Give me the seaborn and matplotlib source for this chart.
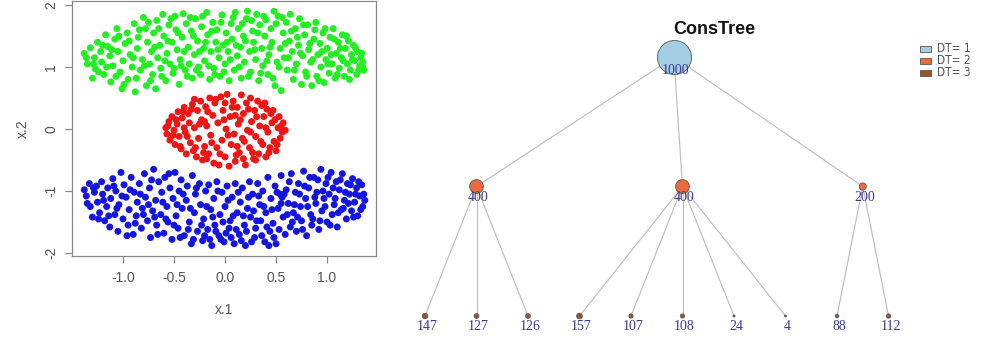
import numpy as np
import pandas as pd
import matplotlib
matplotlib.use("Agg")
import matplotlib.pyplot as plt
from matplotlib.patches import Rectangle
import seaborn as sns

# ---------------- data: scatter clusters (x.1, x.2) ----------------
green_pts = [
    (-1.38, 1.22), (-1.35, 1.05), (-1.32, 1.31), (-1.30, 0.82), (-1.28, 1.15), (-1.27, 0.97),
    (-1.25, 1.40), (-1.22, 1.25), (-1.21, 1.08), (-1.19, 0.88), (-1.17, 1.52), (-1.15, 1.33),
    (-1.13, 1.18), (-1.12, 0.76), (-1.10, 1.02), (-1.08, 1.45), (-1.06, 1.62), (-1.05, 1.25),
    (-1.03, 0.92), (-1.01, 0.65), (-1.00, 1.10), (-0.98, 1.38), (-0.96, 1.55), (-0.95, 0.80),
    (-0.93, 1.20), (-0.91, 1.00), (-0.89, 1.70), (-0.88, 0.60), (-0.86, 1.30), (-0.85, 1.48),
    (-0.83, 0.95), (-0.81, 1.12), (-0.80, 1.80), (-0.78, 1.62), (-0.77, 0.70), (-0.76, 1.40),
    (-0.74, 1.05), (-0.72, 1.25), (-0.71, 0.88), (-0.70, 1.55), (-0.68, 0.65), (-0.67, 1.75),
    (-0.66, 1.15), (-0.64, 1.35), (-0.63, 0.98), (-0.61, 1.85), (-0.60, 1.50), (-0.58, 0.78),
    (-0.57, 1.22), (-0.55, 1.68), (-0.54, 1.05), (-0.52, 1.40), (-0.51, 0.90), (-0.49, 1.82),
    (-0.48, 1.60), (-0.47, 1.28), (-0.45, 0.72), (-0.44, 1.12), (-0.42, 1.48), (-0.41, 1.86),
    (-0.39, 0.95), (-0.38, 1.70), (-0.36, 1.32), (-0.35, 1.05), (-0.33, 1.58), (-0.32, 0.82),
    (-0.30, 1.20), (-0.29, 1.78), (-0.27, 1.42), (-0.26, 1.00), (-0.24, 0.88), (-0.23, 1.65),
    (-0.21, 1.30), (-0.20, 1.10), (-0.18, 1.88), (-0.17, 1.52), (-0.15, 0.80), (-0.14, 1.25),
    (-0.12, 1.72), (-0.11, 0.98), (-0.09, 1.40), (-0.08, 1.60), (-0.06, 1.15), (-0.05, 0.85),
    (-0.03, 1.84), (-0.02, 1.35), (0.00, 1.05), (0.01, 1.55), (0.03, 1.25), (0.04, 0.78),
    (0.06, 1.70), (0.07, 1.45), (0.09, 0.95), (0.10, 1.88), (0.12, 1.18), (0.13, 1.62),
    (0.15, 1.32), (0.16, 0.82), (0.18, 1.50), (0.19, 1.08), (0.21, 1.78), (0.22, 1.90),
    (0.24, 1.25), (0.25, 0.92), (0.27, 1.58), (0.28, 1.40), (0.30, 1.12), (0.31, 1.85),
    (0.33, 0.78), (0.34, 1.68), (0.36, 1.30), (0.37, 1.02), (0.39, 1.50), (0.40, 1.76),
    (0.42, 0.88), (0.43, 1.20), (0.45, 1.62), (0.46, 1.40), (0.48, 1.90), (0.49, 0.70),
    (0.51, 1.08), (0.52, 1.82), (0.54, 1.30), (0.55, 0.62), (0.57, 1.55), (0.58, 1.15),
    (0.60, 1.72), (0.61, 0.95), (0.63, 1.42), (0.64, 1.85), (0.66, 1.25), (0.67, 0.80),
    (0.69, 1.62), (0.70, 1.05), (0.72, 1.35), (0.73, 1.78), (0.75, 0.72), (0.76, 1.18),
    (0.78, 1.52), (0.79, 0.92), (0.81, 1.68), (0.82, 1.28), (0.84, 1.08), (0.85, 0.70),
    (0.87, 1.45), (0.88, 1.60), (0.90, 0.85), (0.91, 1.20), (0.93, 1.38), (0.94, 1.00),
    (0.96, 1.55), (0.97, 0.75), (0.99, 1.12), (1.00, 1.30), (1.02, 0.90), (1.03, 1.48),
    (1.05, 1.05), (1.06, 1.62), (1.08, 0.82), (1.09, 1.22), (1.11, 1.40), (1.12, 0.98),
    (1.14, 1.15), (1.15, 1.52), (1.17, 0.85), (1.18, 1.30), (1.20, 1.05), (1.21, 1.42),
    (1.23, 0.95), (1.24, 1.20), (1.26, 1.35), (1.27, 1.10), (1.29, 0.88), (1.30, 1.25),
    (1.32, 1.02), (1.33, 1.15), (1.35, 1.08), (1.36, 0.95),
    (-1.36, 1.15), (-1.29, 1.05), (-1.24, 0.92), (-1.20, 1.35), (-1.16, 1.00), (-1.11, 1.28),
    (-1.07, 0.85), (-1.04, 1.50), (-0.99, 0.72), (-0.94, 1.42), (-0.90, 1.15), (-0.87, 0.82),
    (-0.84, 1.60), (-0.79, 1.02), (-0.75, 1.72), (-0.73, 0.78), (-0.69, 1.32), (-0.65, 1.62),
    (-0.62, 0.85), (-0.59, 1.10), (-0.56, 1.42), (-0.53, 1.78), (-0.50, 0.98), (-0.46, 1.55),
    (-0.43, 1.02), (-0.40, 1.25), (-0.37, 0.85), (-0.34, 1.80), (-0.31, 1.50), (-0.28, 0.95),
    (-0.25, 1.25), (-0.22, 1.82), (-0.19, 1.40), (-0.16, 1.02), (-0.13, 1.58), (-0.10, 0.88),
    (-0.07, 1.28), (-0.04, 1.72), (-0.01, 0.92), (0.02, 1.40), (0.05, 1.12), (0.08, 1.80),
    (0.11, 1.35), (0.14, 1.00), (0.17, 1.70), (0.20, 1.42), (0.23, 0.85), (0.26, 1.75),
    (0.29, 1.28), (0.32, 1.55), (0.35, 0.90), (0.38, 1.82), (0.41, 1.10), (0.44, 1.32),
    (0.47, 0.82), (0.50, 1.70), (0.53, 1.00), (0.56, 1.80), (0.59, 1.38), (0.62, 1.15),
    (0.65, 1.58), (0.68, 0.95), (0.71, 1.48), (0.74, 1.22), (0.77, 1.68), (0.80, 0.85),
    (0.83, 1.38), (0.86, 1.12), (0.89, 1.72), (0.92, 0.78), (0.95, 1.25), (0.98, 1.62),
    (1.01, 1.05), (1.04, 1.20), (1.07, 1.45), (1.10, 0.88), (1.13, 1.30), (1.16, 1.10),
    (1.19, 1.50), (1.22, 0.80), (1.25, 1.12), (1.28, 1.30), (1.31, 0.95), (1.34, 1.22),
    (1.35, 1.00),
]

red_pts = [
    (-0.58, 0.02), (-0.57, -0.08), (-0.55, 0.12), (-0.54, -0.18), (-0.52, 0.20), (-0.50, -0.02),
    (-0.49, -0.25), (-0.47, 0.08), (-0.46, 0.28), (-0.45, -0.12), (-0.43, -0.32), (-0.42, 0.18),
    (-0.40, 0.35), (-0.39, -0.05), (-0.38, -0.40), (-0.36, 0.25), (-0.35, 0.10), (-0.34, -0.22),
    (-0.32, 0.40), (-0.31, -0.35), (-0.30, 0.02), (-0.28, -0.45), (-0.27, 0.30), (-0.26, -0.15),
    (-0.24, 0.45), (-0.23, 0.15), (-0.22, -0.50), (-0.20, -0.28), (-0.19, 0.36), (-0.18, 0.05),
    (-0.16, -0.40), (-0.15, 0.50), (-0.14, -0.10), (-0.12, 0.22), (-0.11, -0.55), (-0.10, 0.42),
    (-0.08, -0.30), (-0.07, 0.10), (-0.06, -0.58), (-0.04, 0.52), (-0.03, -0.18), (-0.02, 0.30),
    (0.00, -0.45), (0.01, 0.00), (0.02, 0.56), (0.04, -0.60), (0.05, 0.20), (0.06, -0.25),
    (0.08, 0.45), (0.09, -0.08), (0.10, -0.52), (0.12, 0.35), (0.13, 0.08), (0.14, -0.38),
    (0.16, 0.55), (0.17, -0.15), (0.18, 0.25), (0.20, -0.58), (0.21, 0.42), (0.22, -0.02),
    (0.24, -0.30), (0.25, 0.50), (0.26, 0.12), (0.28, -0.48), (0.29, 0.30), (0.30, -0.12),
    (0.32, 0.45), (0.33, -0.40), (0.34, 0.05), (0.36, 0.38), (0.37, -0.25), (0.38, 0.20),
    (0.40, -0.45), (0.41, 0.32), (0.42, -0.05), (0.44, -0.30), (0.45, 0.25), (0.46, 0.10),
    (0.48, -0.20), (0.49, 0.15), (0.50, -0.35), (0.52, 0.02), (0.53, 0.20), (0.54, -0.15),
    (0.56, -0.05), (0.57, 0.10), (0.59, -0.02),
    (-0.56, 0.05), (-0.51, -0.10), (-0.48, 0.15), (-0.44, -0.28), (-0.41, 0.28), (-0.37, -0.12),
    (-0.33, 0.32), (-0.29, -0.30), (-0.25, 0.08), (-0.21, -0.38), (-0.17, 0.28), (-0.13, -0.22),
    (-0.09, 0.48), (-0.05, -0.40), (-0.01, 0.15), (0.03, -0.10), (0.07, 0.35), (0.11, -0.42),
    (0.15, 0.15), (0.19, -0.20), (0.23, 0.32), (0.27, -0.38), (0.31, 0.20), (0.35, -0.20),
    (0.39, 0.42), (0.43, -0.38), (0.47, 0.30), (0.51, -0.25), (0.55, 0.05), (-0.30, 0.48),
    (-0.18, -0.48), (0.00, 0.42), (0.10, 0.22), (0.18, -0.48), (0.30, -0.50), (0.40, 0.02),
    (-0.40, 0.02), (-0.20, 0.12), (0.25, -0.05), (0.12, -0.28),
]

blue_pts = [
    (-1.38, -0.98), (-1.36, -1.08), (-1.33, -0.88), (-1.32, -1.25), (-1.30, -1.42), (-1.28, -1.02),
    (-1.26, -0.92), (-1.25, -1.18), (-1.23, -1.35), (-1.21, -0.85), (-1.20, -1.05), (-1.18, -1.48),
    (-1.16, -1.25), (-1.15, -0.95), (-1.13, -1.58), (-1.12, -1.12), (-1.10, -0.80), (-1.08, -1.38),
    (-1.07, -1.00), (-1.05, -1.65), (-1.04, -1.22), (-1.02, -0.70), (-1.00, -1.45), (-0.99, -0.90),
    (-0.97, -1.10), (-0.95, -1.55), (-0.94, -1.30), (-0.92, -0.78), (-0.90, -1.70), (-0.89, -1.02),
    (-0.87, -1.40), (-0.86, -1.18), (-0.84, -0.88), (-0.82, -1.60), (-0.81, -1.28), (-0.79, -0.72),
    (-0.78, -1.10), (-0.76, -1.48), (-0.74, -0.95), (-0.73, -1.75), (-0.71, -1.32), (-0.70, -0.65),
    (-0.68, -1.15), (-0.67, -1.55), (-0.65, -0.85), (-0.63, -1.38), (-0.62, -1.02), (-0.60, -1.68),
    (-0.59, -0.78), (-0.57, -1.25), (-0.56, -1.50), (-0.54, -0.95), (-0.52, -1.78), (-0.51, -1.12),
    (-0.49, -0.70), (-0.48, -1.40), (-0.46, -1.60), (-0.45, -1.00), (-0.43, -0.82), (-0.42, -1.28),
    (-0.40, -1.72), (-0.38, -1.15), (-0.37, -0.92), (-0.35, -1.50), (-0.33, -1.85), (-0.32, -0.75),
    (-0.30, -1.35), (-0.29, -1.05), (-0.27, -1.65), (-0.25, -0.88), (-0.24, -1.22), (-0.22, -1.80),
    (-0.21, -1.45), (-0.19, -1.00), (-0.17, -1.62), (-0.16, -0.90), (-0.14, -1.30), (-0.13, -1.88),
    (-0.11, -1.12), (-0.10, -1.55), (-0.08, -0.85), (-0.06, -1.72), (-0.05, -1.38), (-0.03, -1.02),
    (-0.01, -1.82), (0.00, -1.25), (0.02, -0.92), (0.04, -1.60), (0.05, -1.48), (0.07, -1.10),
    (0.09, -1.85), (0.10, -0.88), (0.12, -1.35), (0.14, -1.70), (0.15, -1.18), (0.17, -0.95),
    (0.19, -1.55), (0.20, -1.88), (0.22, -1.28), (0.24, -0.85), (0.25, -1.42), (0.27, -1.05),
    (0.29, -1.75), (0.30, -1.60), (0.32, -0.88), (0.34, -1.22), (0.35, -1.48), (0.37, -1.00),
    (0.39, -1.82), (0.40, -1.35), (0.42, -0.78), (0.44, -1.65), (0.45, -1.12), (0.47, -1.52),
    (0.49, -0.92), (0.50, -1.85), (0.52, -1.28), (0.54, -1.05), (0.55, -0.75), (0.56, -1.10),
    (0.57, -1.42), (0.59, -1.70), (0.60, -0.98), (0.62, -1.20), (0.64, -1.58), (0.65, -0.72),
    (0.67, -1.35), (0.69, -1.02), (0.70, -1.65), (0.72, -0.88), (0.74, -1.25), (0.75, -1.48),
    (0.77, -0.68), (0.79, -1.12), (0.80, -1.72), (0.82, -0.95), (0.84, -1.38), (0.85, -1.55),
    (0.87, -0.78), (0.89, -1.20), (0.90, -1.02), (0.92, -1.62), (0.94, -0.65), (0.95, -1.32),
    (0.97, -1.12), (0.99, -0.88), (1.00, -1.50), (1.02, -1.05), (1.04, -0.70), (1.05, -1.38),
    (1.07, -1.22), (1.09, -0.85), (1.10, -1.58), (1.12, -0.98), (1.14, -1.30), (1.15, -0.72),
    (1.17, -1.15), (1.19, -1.45), (1.20, -0.88), (1.22, -1.05), (1.24, -1.32), (1.25, -0.80),
    (1.27, -1.18), (1.29, -0.95), (1.30, -1.40), (1.32, -1.08), (1.34, -0.90), (1.35, -1.25),
    (1.37, -1.15),
    (-1.35, -1.20), (-1.29, -0.95), (-1.24, -1.45), (-1.19, -1.15), (-1.14, -1.40), (-1.09, -0.92),
    (-1.06, -1.28), (-1.01, -1.08), (-0.96, -1.72), (-0.93, -0.98), (-0.88, -1.52), (-0.83, -1.05),
    (-0.80, -1.38), (-0.75, -1.22), (-0.72, -0.82), (-0.69, -1.42), (-0.66, -1.70), (-0.61, -1.18),
    (-0.58, -1.45), (-0.55, -0.72), (-0.50, -1.55), (-0.47, -1.22), (-0.44, -1.75), (-0.41, -1.05),
    (-0.36, -1.62), (-0.34, -1.28), (-0.31, -1.78), (-0.28, -0.95), (-0.23, -1.55), (-0.20, -1.72),
    (-0.18, -1.25), (-0.15, -1.78), (-0.12, -1.42), (-0.09, -1.65), (-0.07, -1.00), (-0.04, -1.78),
    (-0.02, -1.50), (0.01, -1.68), (0.03, -1.15), (0.06, -1.75), (0.08, -1.40), (0.11, -1.62),
    (0.13, -1.02), (0.16, -1.80), (0.18, -1.40), (0.21, -1.65), (0.23, -1.10), (0.26, -1.82),
    (0.28, -1.32), (0.31, -1.48), (0.33, -1.08), (0.36, -1.72), (0.38, -1.25), (0.41, -1.58),
    (0.43, -1.88), (0.46, -1.30), (0.48, -1.75), (0.51, -1.02), (0.53, -1.62), (0.55, -1.20),
    (0.58, -1.05), (0.61, -1.38), (0.63, -0.85), (0.66, -1.50), (0.68, -1.22), (0.71, -1.42),
    (0.73, -1.05), (0.76, -1.62), (0.78, -0.92), (0.81, -1.25), (0.83, -0.78), (0.86, -1.45),
    (0.88, -1.10), (0.91, -0.82), (0.93, -1.48), (0.96, -1.00), (0.98, -1.25), (1.01, -0.78),
    (1.03, -1.55), (1.06, -0.95), (1.08, -1.12), (1.11, -1.35), (1.13, -0.82), (1.16, -1.28),
    (1.18, -1.02), (1.21, -1.20), (1.23, -0.90), (1.26, -1.42), (1.28, -1.05), (1.31, -0.85),
    (1.33, -1.30), (1.36, -1.05),
]

x_ticks = [-1.0, -0.5, 0.0, 0.5, 1.0]
x_tick_labels = ["-1.0", "-0.5", "0.0", "0.5", "1.0"]
y_ticks = [-2, -1, 0, 1, 2]
y_tick_labels = ["-2", "-1", "0", "1", "2"]

# ---------------- data: ConsTree ----------------
root_count = [1000]
level2_counts = [400, 400, 200]
leaf_counts = [147, 127, 126, 157, 107, 108, 24, 4, 88, 112]
leaf_parent = [0, 0, 0, 1, 1, 1, 1, 1, 2, 2]
legend_labels = ["DT= 1", "DT= 2", "DT= 3"]
title = "ConsTree"

# ---------------- style ----------------
sns.set_theme(style="white")
plt.rcParams["font.family"] = ["Liberation Sans", "DejaVu Sans"]

W, H = 985, 339
fig = plt.figure(figsize=(W / 100, H / 100), dpi=100)

# ---- left: scatter ----
rows = ([(x, y, "g") for x, y in green_pts] +
        [(x, y, "r") for x, y in red_pts] +
        [(x, y, "b") for x, y in blue_pts])
df = pd.DataFrame(rows, columns=["x.1", "x.2", "cl"])

ax1 = fig.add_axes([72 / W, 1 - 256 / H, 304 / W, 255 / H])
sns.scatterplot(data=df, x="x.1", y="x.2", hue="cl",
                palette={"g": "#22EE22", "r": "#EE1515", "b": "#1515E0"},
                s=25, linewidth=0, legend=False, ax=ax1)
ax1.set_xlim(-1.50, 1.48)
ax1.set_ylim(-2.048, 2.065)
ax1.set_xticks(x_ticks)
ax1.set_xticklabels(x_tick_labels)
ax1.set_yticks(y_ticks)
ax1.set_yticklabels(y_tick_labels, rotation=90, va="center")
for sp in ax1.spines.values():
    sp.set_visible(True)
    sp.set_color("#888888")
    sp.set_linewidth(0.9)
ax1.tick_params(axis="both", direction="out", length=5, width=0.9, color="#888888",
                labelcolor="#555555", labelsize=10)
ax1.tick_params(axis="x", pad=6, bottom=True)
ax1.tick_params(axis="y", pad=5, left=True)
ax1.set_xlabel("x.1", color="#555555", fontsize=10, labelpad=13)
ax1.set_ylabel("x.2", color="#555555", fontsize=10, labelpad=10)

# ---- right: tree ----
x0 = 374.3
ax2 = fig.add_axes([x0 / W, 0, 1 - x0 / W, 1])
ax2.set_xlim((x0 - 425) / 51.5, (W - 425) / 51.5)
ax2.set_ylim((H - 57) / 129.5, -57 / 129.5)
ax2.axis("off")

leaf_x = list(range(len(leaf_counts)))
mid_x = [np.mean([leaf_x[i] for i in range(len(leaf_counts)) if leaf_parent[i] == k])
         for k in range(len(level2_counts))]
root_x = [np.mean(mid_x)]

edge_col = "#BBBBBB"
for k, mx in enumerate(mid_x):
    ax2.plot([root_x[0], mx], [0, 1], color=edge_col, lw=0.8, zorder=1)
for i, lx in enumerate(leaf_x):
    ax2.plot([mid_x[leaf_parent[i]], lx], [1, 2], color=edge_col, lw=0.8, zorder=1)

dt_colors = ["#A3CDE3", "#EC6A3E", "#A0522D"]
def size_of(c):
    return (0.034 * c * 0.72) ** 2 + 2.0

levels = [(root_x, root_count, 0), (mid_x, level2_counts, 1), (leaf_x, leaf_counts, 2)]
for xs, cs, d in levels:
    ax2.scatter(xs, [d] * len(xs), s=[size_of(c) for c in cs], c=dt_colors[d],
                edgecolors="#555555", linewidths=0.6, zorder=2)
    off = 9.5 if d == 0 else 7.8
    for x, c in zip(xs, cs):
        ax2.annotate(str(c), (x, d), xytext=(1.5, -off), textcoords="offset points",
                     ha="center", va="center", fontsize=10, color="#3B3B8F",
                     family=["Liberation Serif", "DejaVu Serif"], zorder=3,
                     annotation_clip=False)

fig.text(714 / W, 1 - 30 / H, title, ha="center", va="center", fontsize=13,
         fontweight="bold", color="#111111")

# legend
for j, (lab, col) in enumerate(zip(legend_labels, dt_colors)):
    yc = 49 + 12 * j
    fig.add_artist(Rectangle((920 / W, 1 - (yc + 3) / H), 11 / W, 6 / H,
                             transform=fig.transFigure, facecolor=col,
                             edgecolor="#555555", linewidth=0.6))
    fig.text(937 / W, 1 - yc / H, lab, ha="left", va="center", fontsize=8.5,
             color="#555555", family=["DejaVu Sans"], fontstretch="condensed")

fig.savefig("out.png", dpi=100)
